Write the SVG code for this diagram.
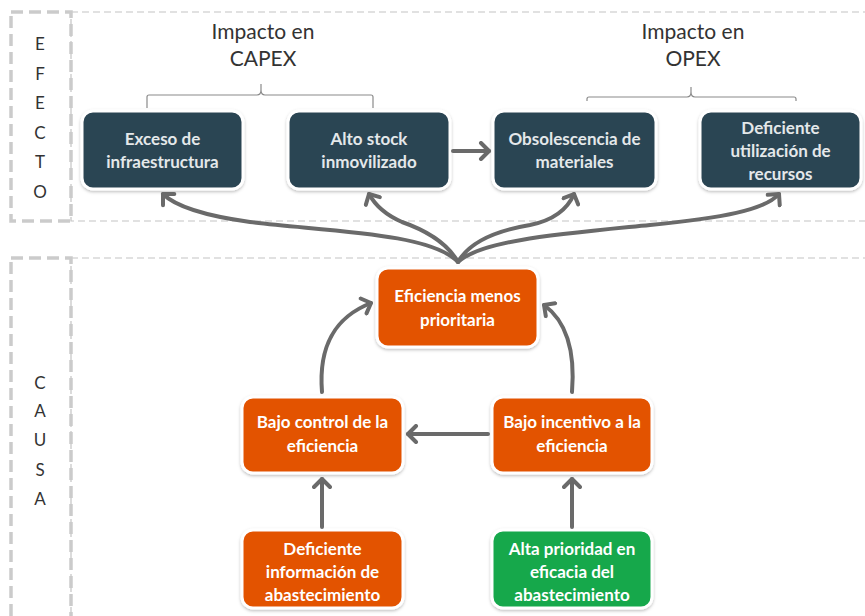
<svg xmlns="http://www.w3.org/2000/svg" width="865" height="616" viewBox="0 0 865 616">
  <style>
    .frame-thick { fill: none; stroke: #cbcbcb; stroke-width: 3.5; stroke-dasharray: 12 6; }
    .frame-thin { fill: none; stroke: #c4c4c4; stroke-width: 1.2; stroke-dasharray: 7 4; }
    .side { font-family: Lato, "Liberation Sans", sans-serif; font-size: 17px; fill: #333333; text-anchor: middle; }
    .title { font-family: Lato, "Liberation Sans", sans-serif; font-size: 21px; fill: #333333; text-anchor: middle; }
    .brace { fill: none; stroke: #8a8a8a; stroke-width: 1.2; }
    .dark rect { fill: #2c4452; stroke: #ffffff; stroke-width: 3; filter: url(#shadow); }
    .orange rect { fill: #e35205; stroke: #ffffff; stroke-width: 3; filter: url(#shadow); }
    .green rect { fill: #12a84b; stroke: #ffffff; stroke-width: 3; filter: url(#shadow); }
    .label { font-family: Lato, "Liberation Sans", sans-serif; font-size: 17px; font-weight: bold; text-anchor: middle; }
    .dark .label { fill: #e4e8ea; }
    .orange .label, .green .label { fill: #ffffff; }
    .arrow { fill: none; stroke: #6a6a6a; stroke-width: 4; stroke-linecap: round; marker-end: url(#chev); }
  </style>
  <defs>
    <filter id="shadow" x="-10%" y="-10%" width="120%" height="130%">
      <feDropShadow dx="0" dy="1.5" stdDeviation="1.5" flood-color="#000000" flood-opacity="0.25"/>
    </filter>
    <marker id="chev" markerUnits="userSpaceOnUse" viewBox="-12 -10 16 20" refX="0" refY="0" markerWidth="16" markerHeight="20" orient="auto">
      <path d="M-8,-8 L0,0 L-8,8" fill="none" stroke="#6a6a6a" stroke-width="4" stroke-linecap="round" stroke-linejoin="round"/>
    </marker>
  </defs>

  <!-- section frames -->
  <g id="frames">
    <rect class="frame-thin" x="71" y="12" width="810" height="209"/>
    <rect class="frame-thick" x="11" y="12" width="60" height="209"/>
    <rect class="frame-thin" x="71" y="258" width="810" height="380"/>
    <rect class="frame-thick" x="11" y="258" width="60" height="380"/>
  </g>

  <!-- side captions -->
  <g id="side-efecto" class="side">
    <text x="40" y="50">E</text>
    <text x="40" y="80">F</text>
    <text x="40" y="109">E</text>
    <text x="40" y="139">C</text>
    <text x="40" y="168">T</text>
    <text x="40" y="198">O</text>
  </g>
  <g id="side-causa" class="side">
    <text x="40" y="389">C</text>
    <text x="40" y="417">A</text>
    <text x="40" y="446">U</text>
    <text x="40" y="476">S</text>
    <text x="40" y="505">A</text>
  </g>

  <!-- impact headings with braces -->
  <g id="capex">
    <text class="title" x="263" y="39">Impacto en</text>
    <text class="title" x="263" y="66">CAPEX</text>
    <path class="brace" d="M147,108 V97 Q147,95 149,95 H257 Q261,95 261,90 V84 M261,90 Q261,95 265,95 H371 Q373,95 373,97 V108"/>
  </g>
  <g id="opex">
    <text class="title" x="693" y="39">Impacto en</text>
    <text class="title" x="693" y="66">OPEX</text>
    <path class="brace" d="M587,101 V99 Q587,97 589,97 H687 Q691,97 691,92 V87 M691,92 Q691,97 695,97 H794 Q796,97 796,99 V101"/>
  </g>

  <!-- effect nodes -->
  <g id="exceso-infraestructura" class="dark">
    <rect x="82" y="111" width="161" height="78" rx="11"/>
    <text class="label" x="162.5" y="145">Exceso  de</text>
    <text class="label" x="162.5" y="168">infraestructura</text>
  </g>
  <g id="alto-stock" class="dark">
    <rect x="288" y="111" width="162" height="78" rx="11"/>
    <text class="label" x="369" y="145">Alto stock</text>
    <text class="label" x="369" y="168">inmovilizado</text>
  </g>
  <g id="obsolescencia" class="dark">
    <rect x="493" y="111" width="163" height="78" rx="11"/>
    <text class="label" x="574.5" y="145">Obsolescencia de</text>
    <text class="label" x="574.5" y="168">materiales</text>
  </g>
  <g id="deficiente-utilizacion" class="dark">
    <rect x="700" y="111" width="161" height="78" rx="11"/>
    <text class="label" x="780.5" y="134">Deficiente</text>
    <text class="label" x="780.5" y="157">utilización de</text>
    <text class="label" x="780.5" y="180">recursos</text>
  </g>

  <!-- cause nodes -->
  <g id="eficiencia-menos-prioritaria" class="orange">
    <rect x="377" y="268" width="161" height="79" rx="11"/>
    <text class="label" x="457.5" y="302">Eficiencia menos</text>
    <text class="label" x="457.5" y="326">prioritaria</text>
  </g>
  <g id="bajo-control" class="orange">
    <rect x="242" y="397" width="161" height="76" rx="11"/>
    <text class="label" x="322.5" y="428">Bajo control de la</text>
    <text class="label" x="322.5" y="452">eficiencia</text>
  </g>
  <g id="bajo-incentivo" class="orange">
    <rect x="492" y="397" width="160" height="76" rx="11"/>
    <text class="label" x="572" y="428">Bajo incentivo a la</text>
    <text class="label" x="572" y="452">eficiencia</text>
  </g>
  <g id="deficiente-informacion" class="orange">
    <rect x="242" y="530" width="161" height="78" rx="11"/>
    <text class="label" x="322.5" y="555">Deficiente</text>
    <text class="label" x="322.5" y="578">información de</text>
    <text class="label" x="322.5" y="601">abastecimiento</text>
  </g>
  <g id="alta-prioridad" class="green">
    <rect x="492" y="530" width="160" height="78" rx="11"/>
    <text class="label" x="572" y="555">Alta prioridad en</text>
    <text class="label" x="572" y="578">eficacia del</text>
    <text class="label" x="572" y="601">abastecimiento</text>
  </g>

  <!-- connectors -->
  <g id="connectors">
    <path class="arrow" d="M453,151 L489,151"/>
    <path class="arrow" d="M458,262 C430,232 320,231 250,222 C200,215 175,206 163,194"/>
    <path class="arrow" d="M458,262 C446,241 422,229 402,222 C386,215 375,205 369,194"/>
    <path class="arrow" d="M458,262 C470,241 500,230 530,225 C555,220 568,208 574,194"/>
    <path class="arrow" d="M458,262 C482,240 560,234 650,225 C722,218 765,210 779,194"/>
    <path class="arrow" d="M322,392 C318,342 338,316 371,303"/>
    <path class="arrow" d="M572,392 C576,342 562,318 544,305"/>
    <path class="arrow" d="M488,434 L408,434"/>
    <path class="arrow" d="M322,527 L322,479"/>
    <path class="arrow" d="M572,527 L572,479"/>
  </g>
</svg>
